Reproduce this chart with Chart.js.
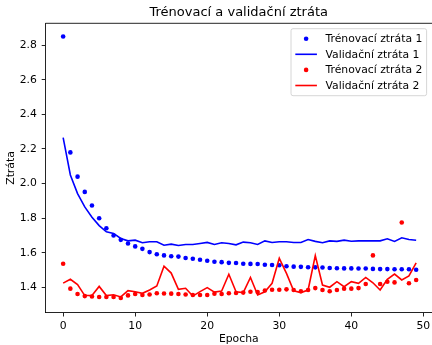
<!DOCTYPE html>
<html>
<head>
<meta charset="utf-8">
<title>Trénovací a validační ztráta</title>
<script src="https://cdn.jsdelivr.net/npm/chart.js@4/dist/chart.umd.min.js"></script>
<style>
  html, body { margin: 0; padding: 0; overflow: hidden; background: #fff; }
  #chart { display: block; }
</style>
</head>
<body>
<canvas id="chart" width="432" height="345"></canvas>
<script>
// ── Data ────────────────────────────────────────────────────────────────────
const EPOCHS = [0, 1, 2, 3, 4, 5, 6, 7, 8, 9, 10, 11, 12, 13, 14, 15, 16, 17, 18, 19,
  20, 21, 22, 23, 24, 25, 26, 27, 28, 29, 30, 31, 32, 33, 34, 35, 36, 37, 38, 39,
  40, 41, 42, 43, 44, 45, 46, 47, 48, 49];

const TRAIN_LOSS_1 = [2.85, 2.18, 2.04, 1.952, 1.873, 1.80, 1.742, 1.70, 1.675, 1.654,
  1.637, 1.623, 1.604, 1.592, 1.585, 1.580, 1.578, 1.570, 1.566, 1.560,
  1.554, 1.548, 1.546, 1.542, 1.541, 1.537, 1.536, 1.535, 1.531, 1.530,
  1.528, 1.522, 1.520, 1.519, 1.517, 1.516, 1.515, 1.512, 1.511, 1.510,
  1.510, 1.509, 1.509, 1.507, 1.506, 1.506, 1.505, 1.505, 1.505, 1.502];

const VAL_LOSS_1 = [2.265, 2.05, 1.942, 1.865, 1.806, 1.757, 1.721, 1.712, 1.683, 1.669,
  1.673, 1.658, 1.664, 1.664, 1.644, 1.650, 1.642, 1.648, 1.648, 1.654,
  1.660, 1.648, 1.658, 1.654, 1.646, 1.662, 1.658, 1.648, 1.669, 1.660,
  1.664, 1.664, 1.660, 1.660, 1.677, 1.666, 1.658, 1.669, 1.666, 1.673,
  1.667, 1.669, 1.669, 1.669, 1.669, 1.681, 1.666, 1.687, 1.677, 1.673];

const TRAIN_LOSS_2 = [1.537, 1.393, 1.362, 1.350, 1.348, 1.345, 1.345, 1.345, 1.339, 1.354,
  1.362, 1.356, 1.359, 1.366, 1.365, 1.364, 1.362, 1.359, 1.356, 1.356,
  1.356, 1.364, 1.362, 1.366, 1.368, 1.370, 1.375, 1.373, 1.382, 1.387,
  1.387, 1.389, 1.385, 1.378, 1.385, 1.396, 1.385, 1.378, 1.385, 1.393,
  1.393, 1.396, 1.420, 1.585, 1.420, 1.433, 1.429, 1.775, 1.424, 1.443];

const VAL_LOSS_2 = [1.425, 1.447, 1.417, 1.353, 1.353, 1.406, 1.353, 1.358, 1.345, 1.381,
  1.375, 1.366, 1.385, 1.408, 1.523, 1.483, 1.389, 1.395, 1.350, 1.376,
  1.399, 1.373, 1.379, 1.476, 1.375, 1.370, 1.458, 1.356, 1.375, 1.424,
  1.568, 1.481, 1.381, 1.370, 1.385, 1.584, 1.414, 1.401, 1.433, 1.404,
  1.433, 1.424, 1.458, 1.427, 1.385, 1.447, 1.477, 1.443, 1.466, 1.542];

const X_TICKS = [0, 10, 20, 30, 40, 50];
const Y_TICKS = [1.4, 1.6, 1.8, 2.0, 2.2, 2.4, 2.6, 2.8];

// ── Helpers ─────────────────────────────────────────────────────────────────
const FONT = '"DejaVu Sans", sans-serif';
const FS = 10.8;   // tick / label / legend text size
const toPoints = ys => EPOCHS.map((e, i) => ({ x: e, y: ys[i] }));

function dotSet(label, ys, color, order) {
  return { label, data: toPoints(ys), showLine: false, pointRadius: 2.3,
    pointBackgroundColor: color, pointBorderWidth: 0, borderColor: color, order };
}

function lineSet(label, ys, color, order) {
  return { label, data: toPoints(ys), showLine: true, pointRadius: 0,
    borderColor: color, borderWidth: 1.6, backgroundColor: color, order };
}

// top spine (left and bottom come from the axes themselves)
const topSpine = {
  id: 'topSpine',
  afterDraw(chart) {
    const { ctx, chartArea: a } = chart;
    ctx.save();
    ctx.strokeStyle = '#000';
    ctx.lineWidth = 0.86;
    ctx.beginPath();
    ctx.moveTo(a.left, a.top);
    ctx.lineTo(a.right, a.top);
    ctx.stroke();
    ctx.restore();
  }
};

// boxed legend in the upper-right corner of the plot
const legendBox = {
  id: 'legendBox',
  afterDraw(chart) {
    const { ctx, chartArea: a } = chart;
    const sets = chart.data.datasets;
    const pad = 4.3, handle = 21.6, gap = 8.6, pitch = 15.6;
    ctx.save();
    ctx.font = FS + 'px ' + FONT;
    const textW = Math.max(...sets.map(d => ctx.measureText(d.label).width));
    const w = pad + handle + gap + textW + pad;
    const h = 67;
    const right = a.right - 5.4, top = a.top + 5.4, left = right - w;

    ctx.beginPath();
    ctx.roundRect(left, top, w, h, 2);
    ctx.fillStyle = 'rgba(255,255,255,0.8)';
    ctx.fill();
    ctx.strokeStyle = 'rgba(204,204,204,0.8)';
    ctx.lineWidth = 1;
    ctx.stroke();

    sets.forEach((d, i) => {
      const y = top + 10 + i * pitch;
      const hx = left + pad;
      if (d.showLine) {
        ctx.beginPath();
        ctx.moveTo(hx, y);
        ctx.lineTo(hx + handle, y);
        ctx.strokeStyle = d.borderColor;
        ctx.lineWidth = d.borderWidth;
        ctx.stroke();
      } else {
        ctx.beginPath();
        ctx.arc(hx + handle / 2, y, d.pointRadius, 0, Math.PI * 2);
        ctx.fillStyle = d.pointBackgroundColor;
        ctx.fill();
      }
      ctx.fillStyle = '#000';
      ctx.textBaseline = 'middle';
      ctx.textAlign = 'left';
      ctx.fillText(d.label, hx + handle + gap, y + 0.5);
    });
    ctx.restore();
  }
};

// ── Chart ───────────────────────────────────────────────────────────────────
// the plot runs to the right edge of the canvas, so the right spine is off-frame
new Chart(document.getElementById('chart'), {
  type: 'scatter',
  data: {
    datasets: [
      dotSet('Trénovací ztráta 1', TRAIN_LOSS_1, '#0000ff', 3),
      lineSet('Validační ztráta 1', VAL_LOSS_1, '#0000ff', 2),
      dotSet('Trénovací ztráta 2', TRAIN_LOSS_2, '#ff0000', 1),
      lineSet('Validační ztráta 2', VAL_LOSS_2, '#ff0000', 0),
    ],
  },
  options: {
    responsive: false,
    animation: false,
    devicePixelRatio: 1,
    layout: { autoPadding: false, padding: 0 },
    plugins: {
      legend: { display: false },
      tooltip: { enabled: false },
      title: {
        display: true,
        text: 'Trénovací a validační ztráta',
        fullSize: false,
        color: '#000',
        font: { family: FONT, size: 13, weight: 'normal' },
        padding: { top: 5.2, bottom: 2.5 },
      },
    },
    scales: {
      x: {
        type: 'linear',
        min: -2.45,
        max: 51.2,
        afterBuildTicks: s => { s.ticks = X_TICKS.map(v => ({ value: v })); },
        afterFit: s => { s.height = 32.3; s.paddingRight = 0; },
        grid: { drawOnChartArea: false, drawTicks: true, tickLength: 3.8, color: '#000', lineWidth: 0.86 },
        border: { display: true, color: '#000', width: 0.86 },
        ticks: { color: '#000', padding: 3.2, maxRotation: 0, font: { family: FONT, size: FS } },
        title: { display: true, text: 'Epocha', color: '#000', padding: { top: 0, bottom: -1 }, font: { family: FONT, size: FS } },
      },
      y: {
        type: 'linear',
        min: 1.254,
        max: 2.926,
        afterBuildTicks: s => { s.ticks = Y_TICKS.map(v => ({ value: v })); },
        afterFit: s => { s.width = 45.5; },
        grid: { drawOnChartArea: false, drawTicks: true, tickLength: 3.8, color: '#000', lineWidth: 0.86 },
        border: { display: true, color: '#000', width: 0.86 },
        ticks: { color: '#000', padding: 4.8, callback: v => v.toFixed(1), font: { family: FONT, size: FS } },
        title: { display: true, text: 'Ztráta', color: '#000', padding: { top: 4.3, bottom: 0 }, font: { family: FONT, size: FS } },
      },
    },
  },
  plugins: [topSpine, legendBox],
});
</script>
</body>
</html>
